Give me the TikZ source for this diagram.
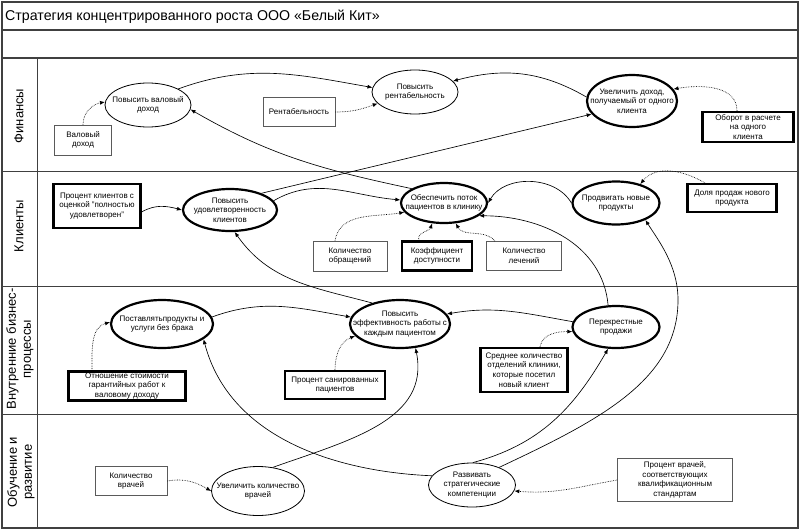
\documentclass[tikz,border=0pt]{standalone}
\usepackage{fontspec}
\setmainfont{Liberation Sans}
\usepackage{tikz}
\usetikzlibrary{shapes.geometric,arrows.meta}
\definecolor{frame}{RGB}{64,64,64}
\definecolor{thinbox}{RGB}{90,90,90}
\newcommand{\nodefont}{\fontsize{8}{9.6}\selectfont}
\newcommand{\drawframe}{\draw[line width=1.1pt, frame]}
\newcommand{\drawlane}{\draw[line width=0.9pt, frame]}
% shape with its own text on top: style, name, position, width, height, text
\newcommand{\shapeat}[6]{
    \node[#1, minimum width=#4pt, minimum height=#5pt] (#2) at (#3) {};
    \node[txt] (#2-t) at (#2) {#6};
}
\tikzset{
  txt/.style={inner sep=0pt, align=center, font=\nodefont},
  goal/.style={ellipse, draw, line width=0.8pt, inner sep=0pt},
  goalkey/.style={goal, line width=2.2pt},
  metric/.style={rectangle, draw=thinbox, line width=0.8pt, inner sep=0pt},
  metrickey/.style={rectangle, draw, line width=2.2pt, inner sep=0pt},
  link/.style={-{Latex[length=5pt,width=4pt]}, line width=0.65pt},
  hint/.style={link, densely dotted},
  lanetxt/.style={rotate=90, align=center, inner sep=0pt, font=\fontsize{13}{15}\selectfont},
}

\begin{document}
\begin{tikzpicture}[x=1pt,y=1pt]
\useasboundingbox (0,0) rectangle (800,-530);
% frame and lanes
\drawframe (2,-2) rectangle (798,-528);
\drawframe (2,-30)--(798,-30);
\drawframe (2,-58)--(798,-58);
\drawlane (2,-171)--(798,-171);
\drawlane (2,-286)--(798,-286);
\drawlane (2,-414)--(798,-414);
\drawlane (37,-58)--(37,-528);
\node[anchor=west, inner sep=0pt, font=\fontsize{14.2}{16}\selectfont] (title) at (5,-17) {Стратегия концентрированного роста ООО «Белый Кит»};
\node[lanetxt] (lfin) at (19,-116) {Финансы};
\node[lanetxt] (lcli) at (19,-226) {Клиенты};
\node[lanetxt] (lproc) at (20,-349) {Внутренние бизнес-\\процессы};
\node[lanetxt] (ledu) at (21,-472) {Обучение и\\развитие};
% Финансы
\shapeat{goal}{vd}{148,-105}{86}{44}{Повысить валовый\\доход}
\shapeat{metric}{valbox}{83,-140}{57}{30}{Валовый\\доход}
\shapeat{goal}{rent}{415,-92}{86}{44}{Повысить\\рентабельность}
\shapeat{metric}{rentbox}{299,-112}{72}{29}{Рентабельность}
\shapeat{goalkey}{dohod}{632,-101}{90}{52}{Увеличить доход,\\получаемый от одного\\клиента}
\shapeat{metrickey}{oborot}{748,-127}{91}{30}{Оборот в расчете\\на одного\\клиента}
% Клиенты
\shapeat{metrickey}{proc}{97,-206}{87}{44}{Процент клиентов с\\оценкой "полностью\\удовлетворен"}
\shapeat{goalkey}{udov}{230,-210}{94}{42}{Повысить\\удовлетворенность\\клиентов}
\shapeat{metric}{obr}{350,-256}{74}{30}{Количество\\обращений}
\shapeat{goalkey}{potok}{444,-203}{86}{40}{Обеспечить поток\\пациентов в клинику}
\shapeat{metrickey}{koef}{437,-256}{70}{29}{Коэффициент\\доступности}
\shapeat{metric}{lech}{524,-256}{75}{29}{Количество\\лечений}
\shapeat{goalkey}{prod}{616,-203}{87}{43}{Продвигать новые\\продукты}
\shapeat{metrickey}{dolya}{732,-198}{89}{28}{Доля продаж нового\\продукта}
% Внутренние бизнес-процессы
\shapeat{goalkey}{brak}{162,-324}{102}{48}{Поставлятьпродукты и\\услуги без брака}
\shapeat{metrickey}{otn}{127,-386}{117}{29}{Отношение стоимости\\гарантийных работ к\\валовому доходу}
\shapeat{goalkey}{eff}{400,-324}{100}{48}{Повысить\\эффективность работы с\\каждым пациентом}
\shapeat{metrickey}{san}{335,-385}{100}{28}{Процент санированных\\пациентов}
\shapeat{goalkey}{cross}{616,-327}{87}{42}{Перекрестные\\продажи}
\shapeat{metrickey}{sred}{524,-370}{87}{44}{Среднее количество\\отделений клиники,\\которые посетил\\новый клиент}
% Обучение и развитие
\shapeat{metric}{vrach}{131,-481}{72}{29}{Количество\\врачей}
\shapeat{goal}{uvr}{258,-491}{93}{49}{Увеличить количество\\врачей}
\shapeat{goal}{razv}{472,-485}{87}{44}{Развивать\\стратегические\\компетенции}
\shapeat{metric}{procv}{675,-480}{115}{43}{Процент врачей,\\соответствующих\\квалификационным\\стандартам}
% links
\draw[hint] (valbox.north) to[out=90,in=190] (vd.176);
\draw[link] (vd.28) to[out=20,in=170] (rent.174);
\draw[hint] (rentbox.east) to[out=0,in=200] (rent.197);
\draw[link] (dohod.175) to[out=150,in=15] (rent.16);
\draw[hint] ([xshift=-11pt]oborot.north) to[out=90,in=10] (dohod.16);
\draw[link] (udov.28) -- (dohod.198);
\draw[link] (potok.156) to[out=168,in=330] (vd.354);
\draw[link] (udov.12) to[out=30,in=175] (potok.176);
\draw[hint] ([xshift=-15pt]obr.north) to[out=80,in=190] (potok.193);
\draw[link] ([yshift=-6pt]proc.east) to[out=30,in=165] (udov.west);
\draw[hint] ([xshift=-18pt]koef.north) to[out=110,in=250] (potok.240);
\draw[hint] ([xshift=-29pt]lech.north) to[out=130,in=300] (potok.300);
\draw[link] (prod.west) to[out=120,in=60] (potok.east);
\draw[hint] ([xshift=-27pt]dolya.north) to[out=150,in=50] (prod.38);
\draw[link] (cross.110) to[out=95,in=0] (potok.340);
\draw[link] (razv.33) .. controls (600,-420) and (678,-380) .. (678,-300)
    .. controls (678,-265) and (658,-240) .. (prod.330);
\draw[link] (razv.88) to[out=15,in=-120] (cross.250);
\draw[link] (cross.173) to[out=170,in=10] (eff.12);
\draw[link] (brak.8) to[out=20,in=170] (eff.172);
\draw[hint] ([xshift=16pt]sred.north) to[out=80,in=180] (cross.186);
\draw[hint] ([xshift=-35pt]otn.north) to[out=90,in=195] (brak.178);
\draw[hint] (san.north) to[out=90,in=200] (eff.195);
\draw[link] (eff.143) to[out=165,in=305] (udov.282);
\draw[link] (uvr.58) .. controls (350,-440) and (430,-420) .. (eff.303);
\draw[link] (razv.167) .. controls (340,-472) and (230,-440) .. (brak.340);
\draw[hint] (vrach.east) to[out=10,in=150] (uvr.west);
\draw[hint] (procv.west) to[out=190,in=-5] (razv.352);
\end{tikzpicture}
\end{document}
